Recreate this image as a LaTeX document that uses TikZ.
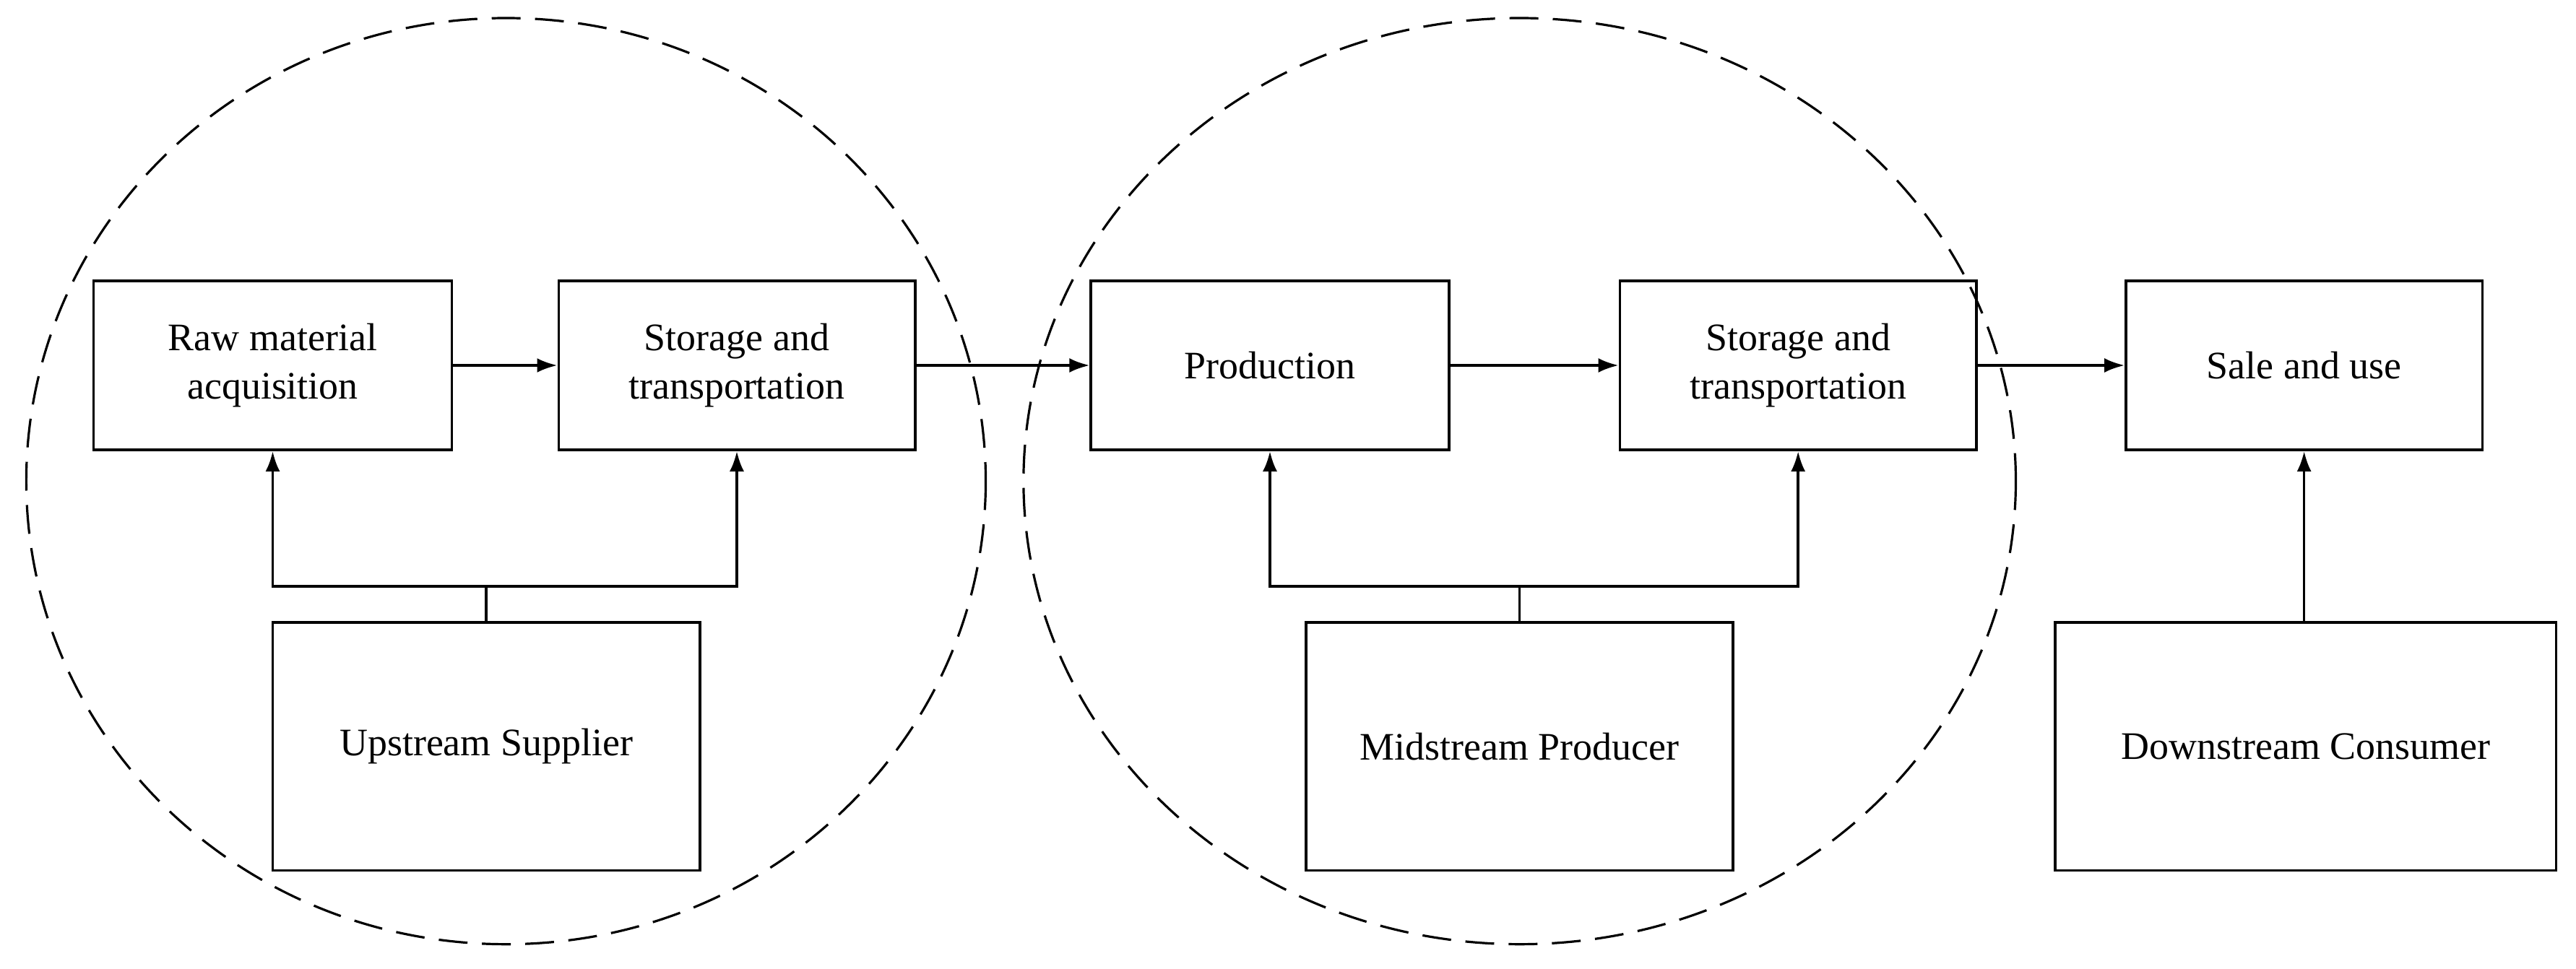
\documentclass[tikz,border=0pt]{standalone}
\usepackage{fontspec}
\setmainfont{Liberation Serif}
\usetikzlibrary{arrows.meta}
\begin{document}
\begin{tikzpicture}[x=0.02cm,y=-0.02cm,
 box/.style={draw,line width=0.9pt,align=center,font=\fontsize{13.5}{17}\selectfont,inner sep=0pt},
 arr/.style={-{Latex[length=7pt,width=5pt]},line width=0.9pt},
 ln/.style={line width=0.9pt}]
\useasboundingbox (0,0) rectangle (1568,590);
\draw[dash pattern=on 10pt off 5pt,line width=0.8pt] (308,293) ellipse [x radius=292,y radius=282];
\draw[dash pattern=on 10pt off 5pt,line width=0.8pt] (925,293) ellipse [x radius=302,y radius=282];
\node[box,minimum width=4.36cm,minimum height=2.06cm] (raw) at (166,222.5) {Raw material\\acquisition};
\node[box,minimum width=4.34cm,minimum height=2.06cm] (st1) at (448.5,222.5) {Storage and\\transportation};
\node[box,minimum width=4.36cm,minimum height=2.06cm] (prod) at (773,222.5) {Production};
\node[box,minimum width=4.34cm,minimum height=2.06cm] (st2) at (1094.5,222.5) {Storage and\\transportation};
\node[box,minimum width=4.34cm,minimum height=2.06cm] (sale) at (1402.5,222.5) {Sale and use};
\node[box,minimum width=5.2cm,minimum height=3.02cm] (up) at (296,454.5) {Upstream Supplier};
\node[box,minimum width=5.2cm,minimum height=3.02cm] (mid) at (925,454.5) {Midstream Producer};
\node[box,minimum width=6.1cm,minimum height=3.02cm] (down) at (1403.5,454.5) {Downstream Consumer};
\draw[arr] (raw) -- (st1);
\draw[arr] (st1) -- (prod);
\draw[arr] (prod) -- (st2);
\draw[arr] (st2) -- (sale);
\coordinate (j1) at (296,357);
\coordinate (j2) at (925,357);
\draw[ln] (up.north) -- (j1);
\draw[arr] (j1) -| (raw.south);
\draw[arr] (j1) -| (st1.south);
\draw[ln] (mid.north) -- (j2);
\draw[arr] (j2) -| (prod.south);
\draw[arr] (j2) -| (st2.south);
\draw[arr] (down.north -| sale.south) -- (sale.south);
\end{tikzpicture}
\end{document}
